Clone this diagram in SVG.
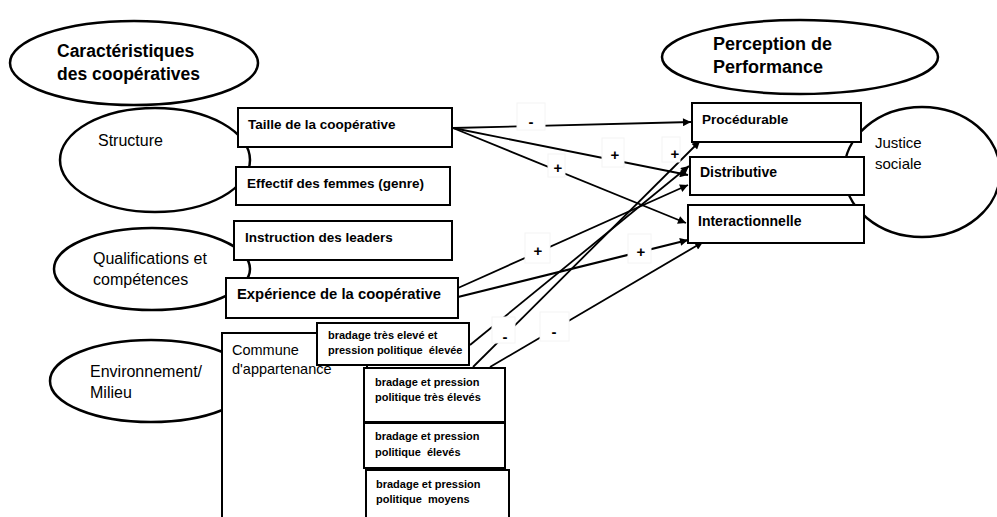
<svg xmlns="http://www.w3.org/2000/svg" width="997" height="517" viewBox="0 0 997 517">
<style>
.ell{fill:#fff;stroke:#000;stroke-width:2.5}
.box{fill:#fff;stroke:#000;stroke-width:2}
.t{font-family:"Liberation Sans",Arial,sans-serif;fill:#000}
.title{font-size:17.5px;font-weight:bold}
.el{font-size:16px}
.bt{font-size:13.5px;font-weight:bold}
.sm{font-size:11px;font-weight:bold}
.con{fill:none;stroke:#000;stroke-width:1.8}
.lb{fill:#fff;stroke:#f4f4f4;stroke-width:1}
.lt{font-family:"Liberation Sans",Arial,sans-serif;font-size:15px;font-weight:bold;text-anchor:middle}
</style>
<defs>
<marker id="ah" viewBox="0 0 10 10" refX="10" refY="5" markerWidth="11" markerHeight="8" markerUnits="userSpaceOnUse" orient="auto">
<path d="M0,0 L10,5 L0,10 z" fill="#000"/>
</marker>
</defs>
<rect width="997" height="517" fill="#fff"/>

<g id="caracteristiques">
<ellipse class="ell" cx="134" cy="63" rx="124" ry="42"/>
<text class="t title" x="57" y="57">Caractéristiques</text>
<text class="t title" x="57" y="80">des coopératives</text>
</g>

<g id="perception">
<ellipse class="ell" cx="800" cy="57" rx="138" ry="37"/>
<text class="t title" x="713" y="50" style="font-size:18px">Perception de</text>
<text class="t title" x="713" y="73" style="font-size:18px">Performance</text>
</g>

<g id="structure">
<ellipse class="ell" cx="155" cy="160" rx="95" ry="52"/>
<text class="t el" x="98" y="146">Structure</text>
</g>

<g id="qualifications">
<ellipse class="ell" cx="152" cy="269" rx="98" ry="41"/>
<text class="t el" x="93" y="264">Qualifications  et</text>
<text class="t el" x="93" y="285">compétences</text>
</g>

<g id="environnement">
<ellipse class="ell" cx="151" cy="381" rx="101" ry="41"/>
<text class="t el" x="90" y="377">Environnement/</text>
<text class="t el" x="90" y="398">Milieu</text>
</g>

<g id="justice">
<ellipse class="ell" cx="922" cy="172" rx="78" ry="65"/>
<text class="t" x="875" y="148" style="font-size:15px">Justice</text>
<text class="t" x="875" y="169" style="font-size:15px">sociale</text>
</g>

<g id="connectors">
<path class="con" d="M453,128 L691,122" marker-end="url(#ah)"/>
<path class="con" d="M453,128 L688,175" marker-end="url(#ah)"/>
<path class="con" d="M453,128 L686,223" marker-end="url(#ah)"/>
<path class="con" d="M458,288 L688,185" marker-end="url(#ah)"/>
<path class="con" d="M458,297 L688,240" marker-end="url(#ah)" style="stroke-width:2.2"/>
<path class="con" d="M470,345 L689,166" marker-end="url(#ah)"/>
<path class="con" d="M473,367 L700,141" marker-end="url(#ah)"/>
<path class="con" d="M490,367 L703,242" marker-end="url(#ah)"/>
</g>

<g id="labels">
<rect class="lb" x="517" y="103" width="28" height="27"/>
<text class="lt" x="531" y="127">-</text>
<rect class="lb" x="602" y="138" width="22" height="29"/>
<text class="lt" x="615" y="160">+</text>
<rect class="lb" x="548" y="154" width="17" height="23"/>
<text class="lt" x="558" y="173">+</text>
<rect class="lb" x="662" y="137" width="18" height="25"/>
<text class="lt" x="675" y="159">+</text>
<rect class="lb" x="525" y="233" width="25" height="30"/>
<text class="lt" x="538" y="256">+</text>
<rect class="lb" x="628" y="234" width="23" height="29"/>
<text class="lt" x="641" y="257">+</text>
<rect class="lb" x="492" y="317" width="23" height="26"/>
<text class="lt" x="505" y="342">-</text>
<rect class="lb" x="540" y="312" width="29" height="29"/>
<text class="lt" x="554" y="337">-</text>
</g>

<g id="taille">
<rect class="box" x="238" y="108" width="214" height="39"/>
<text class="t bt" x="248" y="129">Taille de la coopérative</text>
</g>
<g id="effectif">
<rect class="box" x="236" y="167" width="214" height="38"/>
<text class="t bt" x="247" y="188">Effectif des femmes (genre)</text>
</g>
<g id="instruction">
<rect class="box" x="234" y="221" width="218" height="39"/>
<text class="t bt" x="245" y="242">Instruction des leaders</text>
</g>
<g id="experience">
<rect class="box" x="226" y="278" width="232" height="40"/>
<text class="t bt" x="237" y="299" style="font-size:14.8px">Expérience de la coopérative</text>
</g>

<g id="procedurable">
<rect class="box" x="692" y="103" width="169" height="39"/>
<text class="t bt" x="702" y="124">Procédurable</text>
</g>
<g id="distributive">
<rect class="box" x="690" y="157" width="174" height="38"/>
<text class="t bt" x="700" y="177" style="font-size:14px">Distributive</text>
</g>
<g id="interactionnelle">
<rect class="box" x="688" y="205" width="176" height="38"/>
<text class="t bt" x="698" y="226" style="font-size:14px">Interactionnelle</text>
</g>

<g id="commune">
<rect class="box" x="222" y="333" width="145" height="200"/>
<text class="t" x="232" y="355" style="font-size:14.5px">Commune</text>
<text class="t" x="232" y="374" style="font-size:14.5px">d'appartenance</text>
</g>
<g id="bradage1">
<rect class="box" x="317" y="323" width="152" height="42"/>
<text class="t sm" x="328" y="339">bradage très elevé et</text>
<text class="t sm" x="328" y="354" xml:space="preserve">pression politique  élevée</text>
</g>
<g id="bradage2">
<rect class="box" x="364" y="368" width="141" height="54"/>
<text class="t sm" x="375" y="386">bradage et pression</text>
<text class="t sm" x="375" y="401">politique très élevés</text>
</g>
<g id="bradage3">
<rect class="box" x="364" y="423" width="141" height="45"/>
<text class="t sm" x="375" y="440">bradage et pression</text>
<text class="t sm" x="375" y="456" xml:space="preserve">politique  élevés</text>
</g>
<g id="bradage4">
<rect class="box" x="366" y="470" width="143" height="60"/>
<text class="t sm" x="376" y="488">bradage et pression</text>
<text class="t sm" x="376" y="503" xml:space="preserve">politique  moyens</text>
</g>
</svg>
